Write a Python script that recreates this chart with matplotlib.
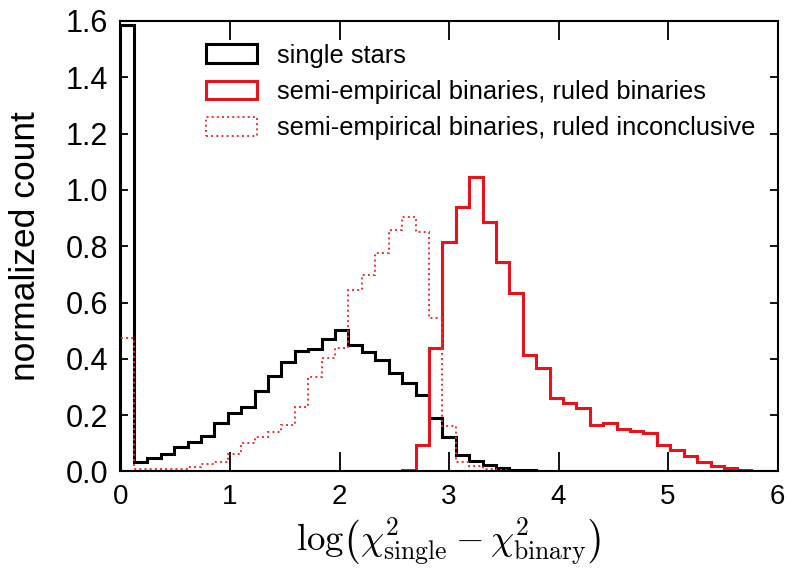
import numpy as np
import matplotlib
matplotlib.use("Agg")
import matplotlib.pyplot as plt

plt.rcParams['font.family'] = ['Liberation Sans', 'DejaVu Sans']
plt.rcParams['mathtext.fontset'] = 'cm'

# bin edges: 49 equal bins between 0 and 6
bin_edges = np.linspace(0, 6, 50)

single_stars = [1.585, 0.035, 0.047, 0.062, 0.088, 0.106, 0.126, 0.173, 0.207, 0.228,
                0.287, 0.339, 0.390, 0.429, 0.434, 0.469, 0.502, 0.450, 0.425, 0.396,
                0.350, 0.313, 0.272, 0.190, 0.124, 0.060, 0.037, 0.024, 0.013, 0.007,
                0.004, 0.002, 0.001, 0.0, 0.0, 0.0, 0.0, 0.0, 0.0, 0.0,
                0.0, 0.0, 0.0, 0.0, 0.0, 0.0, 0.0, 0.0, 0.0]

ruled_binaries = [0.0, 0.0, 0.0, 0.0, 0.0, 0.0, 0.0, 0.0, 0.0, 0.0,
                  0.0, 0.0, 0.0, 0.0, 0.0, 0.0, 0.0, 0.0, 0.0, 0.0,
                  0.0, 0.004, 0.094, 0.437, 0.816, 0.940, 1.047, 0.887, 0.745, 0.633,
                  0.414, 0.366, 0.260, 0.242, 0.224, 0.165, 0.171, 0.150, 0.145, 0.138,
                  0.094, 0.076, 0.055, 0.035, 0.020, 0.011, 0.005, 0.002, 0.0]

ruled_inconclusive = [0.475, 0.008, 0.010, 0.010, 0.010, 0.017, 0.027, 0.032, 0.062, 0.100,
                      0.121, 0.141, 0.165, 0.228, 0.337, 0.403, 0.437, 0.645, 0.698, 0.775,
                      0.857, 0.905, 0.852, 0.544, 0.160, 0.035, 0.018, 0.009, 0.004, 0.002,
                      0.0, 0.0, 0.0, 0.0, 0.0, 0.0, 0.0, 0.0, 0.0, 0.0,
                      0.0, 0.0, 0.0, 0.0, 0.0, 0.0, 0.0, 0.0, 0.0]

labels = ['single stars',
          'semi-empirical binaries, ruled binaries',
          'semi-empirical binaries, ruled inconclusive']

x_ticks = [0, 1, 2, 3, 4, 5, 6]
y_ticks = [0.0, 0.2, 0.4, 0.6, 0.8, 1.0, 1.2, 1.4, 1.6]

fig = plt.figure(figsize=(7.88, 5.78), dpi=100)
ax = fig.add_axes([0.1529, 0.1843, 0.8339, 0.7794])

centers = 0.5 * (bin_edges[:-1] + bin_edges[1:])
ax.hist(centers, bins=bin_edges, weights=single_stars, histtype='step',
        color='black', lw=2.2, label=labels[0])
ax.hist(centers, bins=bin_edges, weights=ruled_binaries, histtype='step',
        color='#e8121a', lw=2.2, label=labels[1])
ax.hist(centers, bins=bin_edges, weights=ruled_inconclusive, histtype='step',
        color='#ee3030', lw=1.4, ls=':', label=labels[2])

ax.set_xlim(0, 6)
ax.set_ylim(0, 1.6)
ax.set_xticks(x_ticks)
ax.set_yticks(y_ticks)
ax.set_yticklabels([f"{v:.1f}" for v in y_ticks])

ax.tick_params(axis='x', which='major', direction='in', length=14, width=1.3,
               top=True, bottom=True, labelsize=20, pad=9)
ax.tick_params(axis='y', which='major', direction='in', length=6, width=1.3,
               left=True, right=True, labelsize=22, pad=9)
for s in ax.spines.values():
    s.set_linewidth(1.5)

ax.set_ylabel('normalized count', fontsize=25.5)
ax.yaxis.set_label_coords(-0.12, 0.5)
ax.set_xlabel(r'$\log\!\left(\chi^2_{\rm single}-\chi^2_{\rm binary}\right)$',
              fontsize=26.5, labelpad=5)

ax.legend(loc='upper left', bbox_to_anchor=(0.11, 0.978), frameon=False,
          fontsize=18.4, borderpad=0, handlelength=2.0, handleheight=0.75,
          labelspacing=0.48, handletextpad=0.8)

fig.savefig('out.png', dpi=100)
